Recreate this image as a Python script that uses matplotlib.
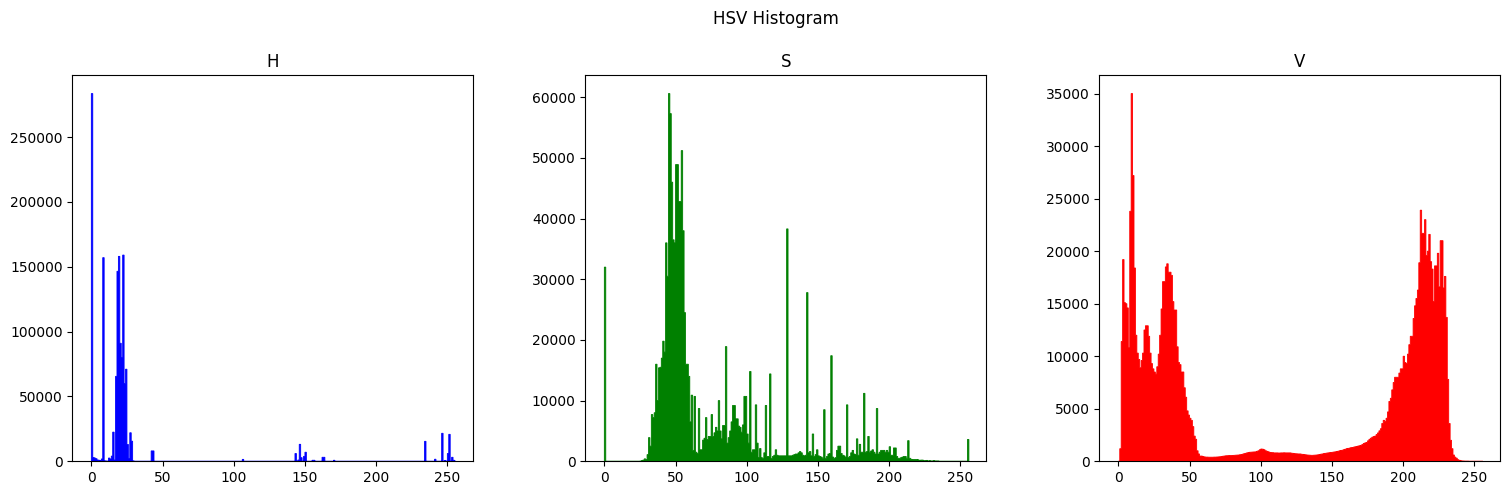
import matplotlib
matplotlib.use("Agg")
import matplotlib.pyplot as plt

titles = ["H", "S", "V"]
colors = ["blue", "green", "red"]
suptitle = "HSV Histogram"

h_counts = [
    283500, 3000, 2500, 2000, 1000, 800, 500, 1800, 157000, 300,
    200, 100, 2500, 1800, 4000, 22500, 1000, 65500, 146500, 158000,
    91000, 80000, 159000, 60000, 71000, 13000, 2000, 22000, 15500, 300,
    0, 0, 0, 0, 0, 0, 0, 0, 0, 0,
    0, 0, 8000, 8000, 0, 0, 0, 0, 0, 0,
    0, 0, 0, 0, 0, 0, 0, 0, 0, 0,
    0, 0, 0, 0, 0, 0, 0, 0, 0, 0,
    0, 0, 0, 0, 0, 0, 0, 0, 0, 0,
    0, 0, 0, 0, 0, 0, 0, 0, 0, 0,
    0, 0, 0, 0, 0, 0, 0, 0, 0, 0,
    0, 0, 0, 0, 0, 0, 1500, 0, 0, 0,
    0, 0, 0, 0, 0, 0, 0, 0, 0, 0,
    0, 0, 0, 0, 0, 0, 0, 0, 0, 0,
    0, 0, 0, 0, 0, 0, 0, 0, 0, 0,
    0, 0, 0, 6000, 0, 1000, 13100, 2800, 0, 3800,
    7000, 0, 0, 0, 0, 800, 800, 0, 0, 0,
    0, 0, 3100, 3100, 0, 0, 0, 0, 0, 0,
    800, 0, 0, 0, 0, 0, 0, 0, 0, 0,
    0, 0, 0, 0, 0, 0, 0, 0, 0, 0,
    0, 0, 0, 0, 0, 0, 0, 0, 0, 0,
    0, 0, 0, 0, 0, 0, 0, 0, 0, 0,
    0, 0, 0, 0, 0, 0, 0, 0, 0, 0,
    0, 0, 0, 0, 0, 0, 0, 0, 0, 0,
    0, 0, 0, 0, 15400, 0, 0, 0, 0, 0,
    0, 1600, 0, 0, 0, 0, 21600, 0, 700, 0,
    6000, 20800, 0, 3100, 800, 100,
]

s_counts = [
    32000, 0, 0, 0, 0, 0, 0, 0, 0, 0,
    0, 0, 0, 0, 0, 0, 0, 0, 0, 0,
    0, 0, 0, 0, 0, 30, 100, 200, 400, 300,
    1100, 3900, 2500, 7700, 7200, 8000, 16000, 10000, 15400, 15500,
    17000, 19800, 18000, 36000, 30500, 60600, 57300, 46000, 36500, 36000,
    48900, 48900, 42800, 42800, 51200, 38000, 24500, 16000, 16000, 14000,
    6500, 10900, 1800, 10700, 1500, 1300, 8700, 1900, 1900, 3500,
    3800, 7200, 3600, 4100, 4100, 7700, 4100, 4700, 5600, 5000,
    10000, 5000, 3700, 5900, 5900, 18900, 3000, 3900, 5000, 6500,
    9200, 9200, 7000, 7000, 5800, 5600, 4800, 6000, 10700, 10700,
    4500, 3000, 14800, 1500, 1900, 1900, 9300, 3000, 600, 2100,
    600, 500, 1400, 9200, 800, 800, 14400, 500, 800, 1000,
    1900, 1000, 900, 900, 900, 900, 900, 900, 38300, 900,
    900, 900, 1000, 1100, 1200, 1200, 1400, 1600, 1400, 1000,
    900, 1000, 27800, 1400, 1600, 900, 4500, 800, 1100, 1900,
    900, 800, 700, 500, 8500, 500, 800, 1200, 1300, 17400,
    700, 500, 600, 1800, 2500, 2500, 1300, 1000, 900, 700,
    9300, 600, 800, 1400, 1800, 1200, 1100, 3700, 1000, 2800,
    1500, 1500, 11200, 1500, 1600, 4100, 1500, 1700, 1900, 1500,
    1200, 8700, 1200, 1500, 1800, 1800, 1800, 1500, 1800, 1500,
    2400, 1000, 1000, 2200, 2200, 800, 500, 500, 600, 700,
    800, 800, 500, 3400, 500, 350, 300, 300, 300, 300,
    250, 150, 200, 200, 100, 100, 150, 50, 100, 50,
    50, 100, 50, 50, 50, 0, 0, 0, 0, 0,
    0, 0, 0, 0, 0, 0, 0, 0, 0, 0,
    0, 0, 0, 0, 0, 3600,
]

v_counts = [
    0, 1200, 11400, 19200, 15100, 15000, 14600, 10800, 23800, 35000,
    27200, 18400, 12000, 10300, 9700, 8900, 9600, 10300, 12500, 12900,
    12900, 11900, 10300, 9300, 8800, 8500, 8300, 9000, 10200, 12000,
    14500, 17100, 17100, 18500, 18800, 18000, 18000, 17700, 15200, 14400,
    14400, 10900, 9400, 9200, 8500, 8500, 7000, 6100, 4800, 4400,
    4100, 3900, 3300, 2400, 2100, 1000, 700, 500, 500, 450,
    420, 400, 400, 390, 390, 390, 390, 400, 400, 410,
    420, 430, 450, 480, 500, 520, 530, 540, 550, 550,
    560, 570, 580, 590, 600, 620, 640, 680, 720, 760,
    800, 830, 860, 870, 880, 890, 900, 950, 1000, 1100,
    1170, 1150, 1100, 1000, 950, 900, 850, 830, 820, 800,
    800, 800, 790, 790, 800, 800, 810, 800, 800, 800,
    800, 780, 760, 740, 720, 710, 700, 700, 680, 660,
    640, 620, 600, 590, 580, 570, 570, 580, 590, 600,
    620, 650, 680, 700, 730, 760, 780, 800, 820, 840,
    860, 880, 900, 930, 960, 1000, 1030, 1060, 1100, 1150,
    1200, 1230, 1260, 1290, 1320, 1350, 1380, 1410, 1450, 1480,
    1520, 1600, 1700, 1750, 1800, 1950, 2100, 2200, 2300, 2350,
    2400, 2550, 2700, 2900, 3100, 3600, 3900, 3800, 4100, 4700,
    5700, 6000, 6800, 7500, 8000, 8000, 8000, 8400, 8800, 8800,
    10000, 9400, 9300, 10200, 11100, 11900, 11900, 13600, 14800, 15500,
    16300, 18900, 23900, 21700, 21700, 23000, 19600, 20000, 21600, 19000,
    18300, 15200, 18600, 18600, 19800, 16600, 21000, 21000, 16500, 17600,
    13700, 7800, 3600, 2000, 1200, 600, 400, 300, 150, 100,
    50, 30, 20, 10, 10, 10, 0, 0, 0, 0,
    0, 0, 0, 0, 0, 0,
]

bin_values = list(range(256))
assert len(h_counts) == len(s_counts) == len(v_counts) == 256

W, H = 1509, 495
fig = plt.figure(figsize=(W / 100, H / 100), dpi=100)
lefts = [72.4, 585.4, 1099.4]
for left, title, color, counts in zip(lefts, titles, colors, [h_counts, s_counts, v_counts]):
    ax = fig.add_axes([left / W, (H - 461.3) / H, 401 / W, 386.1 / H])
    ax.hist(bin_values, bins=256, range=(0, 256), weights=counts, color=color,
            histtype="stepfilled", edgecolor=color, linewidth=0.6)
    ax.set_xlim(-13.3, 268.3)
    ax.set_title(title)
fig.text(776 / W, (H - 18.5) / H, suptitle, ha="center", va="center", fontsize=12)
fig.savefig("out.png", dpi=100)
